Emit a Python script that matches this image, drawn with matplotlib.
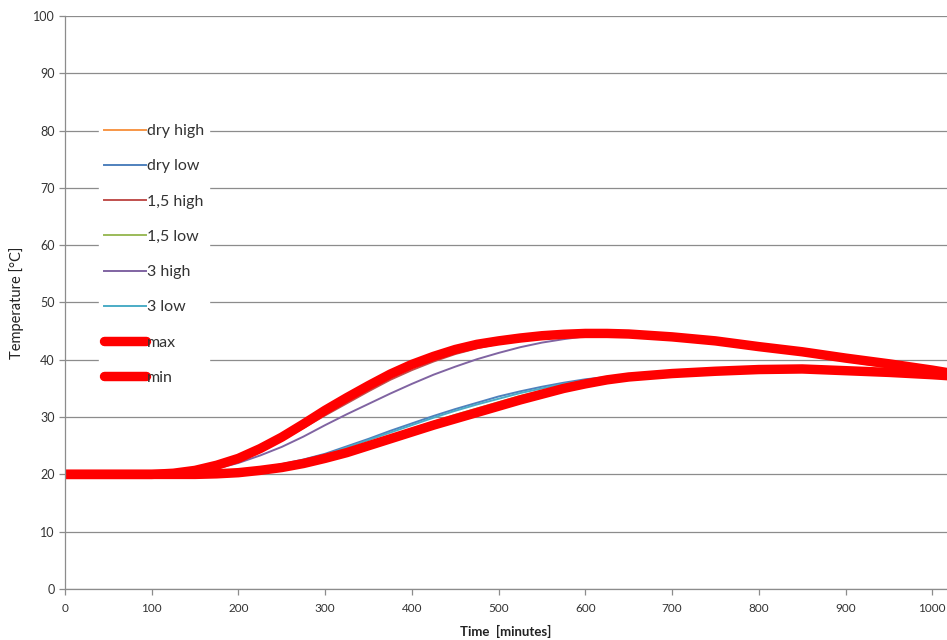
import matplotlib
matplotlib.use("Agg")
import matplotlib.pyplot as plt

plt.rcParams['font.family'] = ['Lato', 'DejaVu Sans']

# time axis, minutes
time = [0, 50, 100, 125, 150, 175, 200, 225, 250, 275, 300, 325, 350, 375,
        400, 425, 450, 475, 500, 525, 550, 575, 600, 625, 650, 700, 750,
        800, 850, 900, 950, 1000, 1020]

# temperatures in °C for each case
dry_high = [20, 20, 20, 20.1, 20.6, 21.5, 22.8, 24.5, 26.5, 28.8, 31.2, 33.4,
            35.5, 37.5, 39.2, 40.6, 41.8, 42.7, 43.3, 43.8, 44.2, 44.45, 44.6,
            44.6, 44.5, 44.0, 43.3, 42.3, 41.0, 39.8, 38.6, 37.8, 37.5]
dry_low = [20, 20, 20, 20.0, 20.1, 20.2, 20.5, 21.0, 21.8, 22.6, 23.6, 24.9,
           26.2, 27.6, 28.9, 30.2, 31.4, 32.5, 33.6, 34.5, 35.3, 36.0, 36.6,
           37.0, 37.4, 37.9, 38.1, 38.3, 38.4, 38.1, 37.8, 37.4, 37.2]
high_15 = [20, 20, 20, 20.1, 20.5, 21.3, 22.5, 24.1, 26.0, 28.1, 30.3, 32.4,
           34.5, 36.5, 38.2, 39.7, 41.0, 42.0, 42.8, 43.4, 43.9, 44.3, 44.5,
           44.5, 44.5, 44.0, 43.3, 42.3, 41.3, 40.2, 39.2, 38.1, 37.6]
low_15 = [20, 20, 20, 20.0, 20.0, 20.1, 20.3, 20.8, 21.4, 22.2, 23.0, 24.2,
          25.4, 26.7, 28.0, 29.2, 30.4, 31.5, 32.6, 33.7, 34.6, 35.5, 36.2,
          36.7, 37.1, 37.7, 38.0, 38.3, 38.4, 38.1, 37.8, 37.4, 37.2]
high_3 = [20, 20, 20, 20.1, 20.4, 21.0, 22.0, 23.3, 24.8, 26.6, 28.6, 30.5,
          32.3, 34.1, 35.8, 37.4, 38.8, 40.1, 41.2, 42.2, 43.0, 43.6, 44.1,
          44.3, 44.4, 44.0, 43.3, 42.3, 41.4, 40.3, 39.3, 38.2, 37.7]
low_3 = [20, 20, 20, 20.0, 20.1, 20.2, 20.4, 20.9, 21.7, 22.5, 23.4, 24.7,
         26.0, 27.3, 28.6, 29.9, 31.1, 32.2, 33.2, 34.2, 35.0, 35.8, 36.4,
         36.9, 37.3, 37.8, 38.1, 38.3, 38.4, 38.1, 37.8, 37.4, 37.2]
t_max = [20, 20, 20, 20.2, 20.7, 21.6, 22.8, 24.5, 26.5, 28.8, 31.2, 33.4,
         35.5, 37.5, 39.2, 40.6, 41.8, 42.7, 43.3, 43.8, 44.2, 44.45, 44.6,
         44.6, 44.5, 44.0, 43.3, 42.3, 41.4, 40.3, 39.3, 38.2, 37.7]
t_min = [20, 20, 20, 20.0, 20.0, 20.1, 20.3, 20.7, 21.2, 21.9, 22.8, 23.8,
         25.0, 26.2, 27.4, 28.6, 29.7, 30.8, 31.9, 33.0, 34.0, 35.0, 35.8,
         36.5, 37.0, 37.6, 38.0, 38.3, 38.4, 38.1, 37.8, 37.4, 37.2]

thin_series = [
    ("dry high", dry_high, "#F79646"),
    ("dry low", dry_low, "#4F81BD"),
    ("1,5 high", high_15, "#C0504D"),
    ("1,5 low", low_15, "#9BBB59"),
    ("3 high", high_3, "#8064A2"),
    ("3 low", low_3, "#4BACC6"),
]
thick_series = [
    ("max", t_max, "#FF0000"),
    ("min", t_min, "#FF0000"),
]

fig = plt.figure(figsize=(9.47, 6.4), dpi=100)
ax = fig.add_axes([0.0686, 0.0797, 0.9314, 0.8953])

for name, vals, col in thin_series:
    ax.plot(time, vals, color=col, lw=1.4, label=name)
for name, vals, col in thick_series:
    ax.plot(time, vals, color=col, lw=6.8, label=name,
            solid_capstyle='round', solid_joinstyle='round')

ax.set_xlim(0, 1017)
ax.set_ylim(0, 100)
ax.set_xticks(range(0, 1001, 100))
ax.set_yticks(range(0, 101, 10))
ax.yaxis.grid(True, color='#8c8c8c', lw=0.9)
ax.set_axisbelow(True)

for side in ('top', 'right'):
    ax.spines[side].set_visible(False)
for side in ('left', 'bottom'):
    ax.spines[side].set_color('#8c8c8c')
    ax.spines[side].set_linewidth(0.9)

ax.tick_params(axis='both', colors='#8c8c8c', labelcolor='#333333',
               labelsize=8.5, length=4, width=0.9, direction='out')
ax.tick_params(axis='y', labelsize=9)
ax.tick_params(axis='x', pad=6)

ax.set_xlabel("Time  [minutes]", fontsize=9.5, fontweight='bold',
              color='#222222')
ax.xaxis.set_label_coords(0.5, -0.063)
ax.set_ylabel("Temperature [°C]", fontsize=10.5, color='#222222')
ax.yaxis.set_label_coords(-0.047, 0.5)

leg = ax.legend(loc='upper left', bbox_to_anchor=(0.039, 0.820),
                frameon=True, fancybox=False, framealpha=1.0,
                facecolor='white', edgecolor='white', fontsize=11.5,
                handlelength=2.6, handletextpad=0.1, labelspacing=1.32,
                borderpad=0.3, borderaxespad=0)
for t in leg.get_texts():
    t.set_color('#333333')

fig.savefig("out.png", dpi=100)
